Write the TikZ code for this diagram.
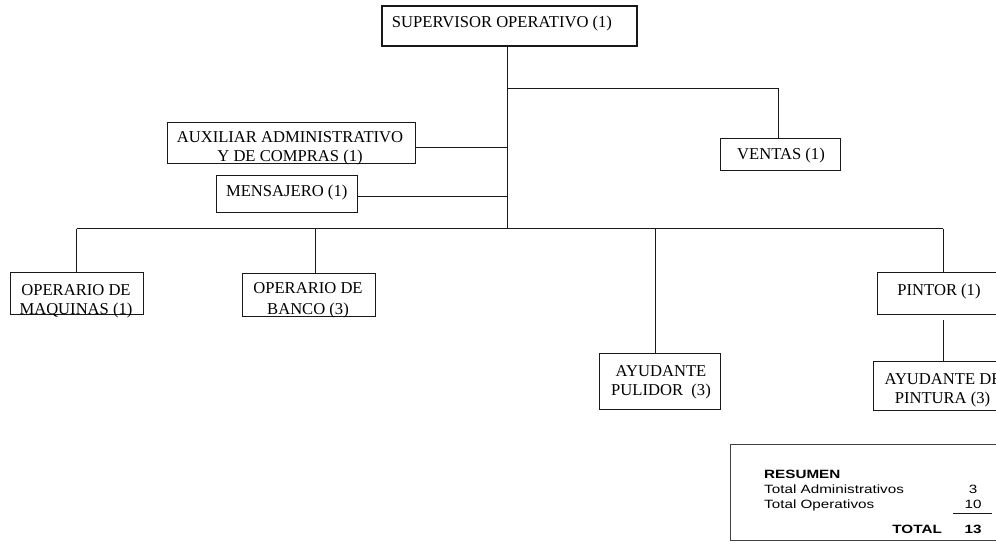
\documentclass[tikz,border=0pt]{standalone}
\usepackage{fontspec}
\setmainfont{Liberation Serif}
\newfontfamily\resfont[FakeStretch=1.27]{Liberation Sans}
\usetikzlibrary{calc}
\newcommand\rsz{\resfont\fontsize{12}{14}\selectfont}
\begin{document}
\begin{tikzpicture}[x=1pt,y=-1pt,
  box/.style={draw=black!90, line width=0.9pt, inner sep=0pt},
  lbl/.style={inner sep=0pt, anchor=base, font=\fontsize{16.6}{19}\selectfont},
  rlbl/.style={inner sep=0pt, anchor=base west, font=\rsz},
  rnum/.style={inner sep=0pt, anchor=base, font=\rsz},
  conn/.style={draw=black!90, line width=0.9pt}]
\clip (0,0) rectangle (996,545);
\fill[white] (0,0) rectangle (996,545);

% boxes
\node[box, line width=2pt, minimum width=255pt, minimum height=40pt] (sup) at (509.5,26) {};
\node[box, minimum width=248pt, minimum height=41pt] (aux) at (291,142.5) {};
\node[box, minimum width=141pt, minimum height=37pt] (men) at (286.5,193.5) {};
\node[box, minimum width=120pt, minimum height=32.4pt] (ventas) at (780,154.5) {};
\node[box, minimum width=133.3pt, minimum height=41.5pt] (opm) at (76.7,293.3) {};
\node[box, minimum width=132.3pt, minimum height=42.5pt] (banco) at (308.8,294.8) {};
\node[box, minimum width=121pt, minimum height=56pt] (pul) at (659.5,381.5) {};
\node[box, minimum width=127.5pt, minimum height=41.8pt] (pintor) at (941.25,293.4) {};
\node[box, minimum width=138.7pt, minimum height=49.7pt] (ayp) at (942.65,385.85) {};
\node[box, draw=black!75, minimum width=275pt, minimum height=96pt] (res) at (867.5,492) {};

% texts
\node[lbl] (supT) at (502,27.3) {SUPERVISOR OPERATIVO (1)};
\node[lbl] (auxT1) at (290,142.7) {AUXILIAR ADMINISTRATIVO};
\node[lbl] (auxT2) at (290,161.7) {Y DE COMPRAS (1)};
\node[lbl] (menT) at (286.7,196.7) {MENSAJERO (1)};
\node[lbl] (venT) at (781,160) {VENTAS (1)};
\node[lbl] (opmT1) at (76,295.5) {OPERARIO DE};
\node[lbl] (opmT2) at (76,314.5) {MAQUINAS (1)};
\node[lbl] (banT1) at (308,293.5) {OPERARIO DE};
\node[lbl] (banT2) at (308,314.3) {BANCO (3)};
\node[lbl] (pulT1) at (661,376.7) {AYUDANTE};
\node[lbl] (pulT2) at (661,395.7) {PULIDOR\ \ (3)};
\node[lbl] (pinT) at (939,295.7) {PINTOR (1)};
\node[lbl] (aypT1) at (943,384) {AYUDANTE DE};
\node[lbl] (aypT2) at (942.5,403.3) {PINTURA (3)};

% resumen
\node[rlbl, font=\rsz\bfseries] (resT) at (764,478.7) {RESUMEN};
\node[rlbl] (resA) at (764,493) {Total Administrativos};
\node[rlbl] (resO) at (764,508) {Total Operativos};
\node[inner sep=0pt, anchor=base east, font=\rsz\bfseries] (resTot) at (942,533) {TOTAL};
\node[rnum] (nA) at (973,493) {3};
\node[rnum] (nO) at (973,508) {10};
\node[rnum, font=\rsz\bfseries] (nT) at (973,533) {13};
\coordinate (u1) at (953,513.3);
\coordinate (u2) at (991.7,513.3);
\draw[conn] (u1) -- (u2);

% connectors
\coordinate (tv) at (507,88.5);
\coordinate (vx) at (778.5,88.5);
\coordinate (tb) at (507,228.7);
\coordinate (d1) at (76.7,228.7);
\coordinate (d2) at (315,228.7);
\coordinate (d3) at (655,228.7);
\coordinate (d4) at (943.3,228.7);
\draw[conn] (sup.south -| tb) -- (tb);
\draw[conn] (tv) -- (vx) -- (vx |- ventas.north);
\draw[conn] ([yshift=-4.8pt]aux.east) -- ([yshift=-4.8pt]aux.east -| tb);
\draw[conn] ([yshift=-2.5pt]men.east) -- ([yshift=-2.5pt]men.east -| tb);
\draw[conn] (d1) -- (d4);
\draw[conn] (d1) -- (opm.north);
\draw[conn] (d2) -- (d2 |- banco.north);
\draw[conn] (d3) -- (d3 |- pul.north);
\draw[conn] (d4) -- (d4 |- pintor.north);
\draw[conn] ($(d4 |- pintor.south)+(0,5.7)$) -- (d4 |- ayp.north);
\end{tikzpicture}
\end{document}
